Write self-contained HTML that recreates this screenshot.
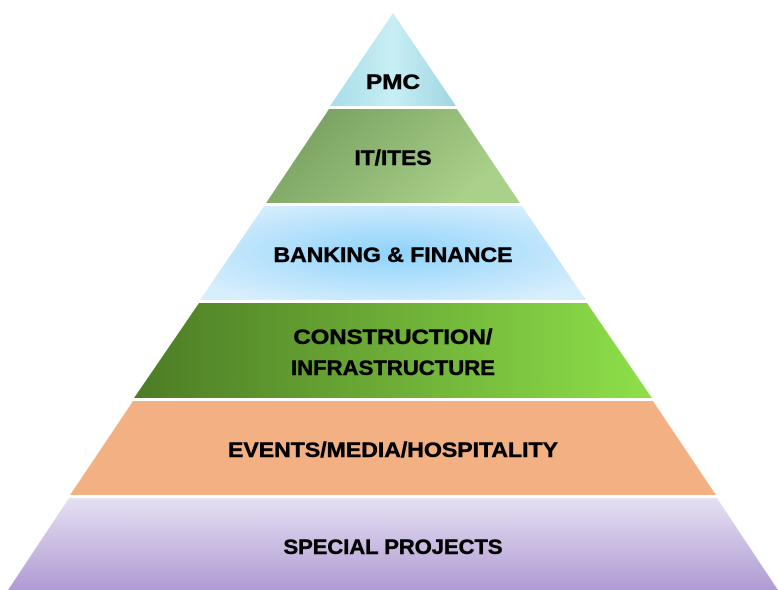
<!DOCTYPE html>
<html><head><style>
html,body{margin:0;padding:0;background:#fff;width:778px;height:590px;overflow:hidden}
svg text{font-family:"Liberation Sans",sans-serif;font-weight:bold;font-size:21px;fill:#000;stroke:#000;stroke-width:0.5;text-anchor:middle}
</style></head><body>
<svg width="778" height="590" viewBox="0 0 778 590" xmlns="http://www.w3.org/2000/svg">
<defs>
<linearGradient id="g1" x1="0" y1="0" x2="1" y2="0"><stop offset="0" stop-color="#a8dde8"/><stop offset="0.5" stop-color="#c8eef4"/><stop offset="1" stop-color="#9fd6e2"/></linearGradient>
<linearGradient id="g2" x1="0" y1="0" x2="1" y2="0.4"><stop offset="0" stop-color="#6f9658"/><stop offset="1" stop-color="#a9d18a"/></linearGradient>
<radialGradient id="g3" cx="0.5" cy="0.5" r="0.6"><stop offset="0" stop-color="#8fd3fb"/><stop offset="1" stop-color="#d7eefd"/></radialGradient>
<linearGradient id="g4" x1="0" y1="0" x2="1" y2="0"><stop offset="0" stop-color="#4c7b24"/><stop offset="1" stop-color="#8ee04a"/></linearGradient>
<linearGradient id="g6" x1="0" y1="0" x2="0" y2="1"><stop offset="0" stop-color="#e6e0f2"/><stop offset="1" stop-color="#b09bd3"/></linearGradient>
</defs>
<polygon points="393,13 456,106 330,106" fill="url(#g1)"/>
<polygon points="329,109 457,109 520,203 266,203" fill="url(#g2)"/>
<polygon points="264,206 522,206 586,300 200,300" fill="url(#g3)"/>
<polygon points="199,303 587,303 652,398 134,398" fill="url(#g4)"/>
<polygon points="133,401 653,401 716,495 70,495" fill="#f3b183"/>
<polygon points="69,498 717,498 778,590 8,590" fill="url(#g6)"/>
<text x="393" y="89" textLength="54" lengthAdjust="spacingAndGlyphs">PMC</text>
<text x="393" y="165" textLength="77" lengthAdjust="spacingAndGlyphs">IT/ITES</text>
<text x="393" y="262" textLength="239" lengthAdjust="spacingAndGlyphs">BANKING &amp; FINANCE</text>
<text x="393" y="344" textLength="199" lengthAdjust="spacingAndGlyphs">CONSTRUCTION/</text>
<text x="393" y="375" textLength="204" lengthAdjust="spacingAndGlyphs">INFRASTRUCTURE</text>
<text x="393" y="457" textLength="330" lengthAdjust="spacingAndGlyphs">EVENTS/MEDIA/HOSPITALITY</text>
<text x="393" y="554" textLength="219" lengthAdjust="spacingAndGlyphs">SPECIAL PROJECTS</text>
</svg>
</body></html>
